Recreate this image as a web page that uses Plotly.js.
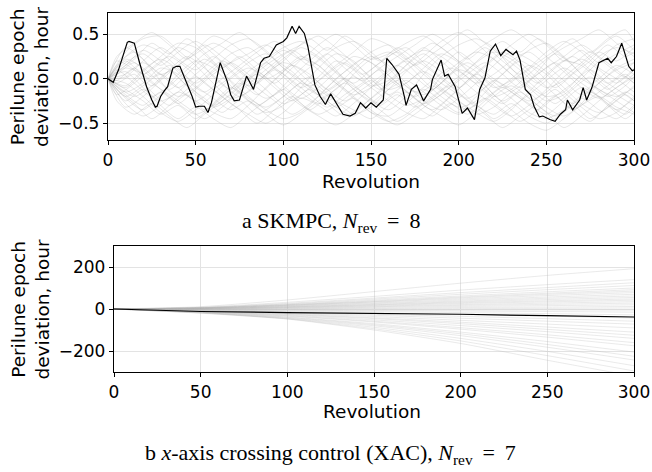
<!DOCTYPE html>
<html>
<head>
<meta charset="utf-8">
<script src="https://cdn.plot.ly/plotly-3.0.1.min.js"></script>
<style>html,body{margin:0;padding:0;background:#fff;}#chart{width:652px;height:472px;}</style>
</head>
<body>
<div id="chart"></div>
<script>
// ---------- Panel a: SKMPC, N_rev = 8 ----------
const revGridA = [0,10,20,30,40,50,60,70,80,90,100,110,120,130,140,150,160,170,180,190,200,210,220,230,240,250,260,270,280,290,300];
const mcA = [
 [0,.25,.38,.30,.12,-.05,.10,.28,.35,.20,.02,-.15,-.28,-.20,.05,.22,.30,.18,-.02,-.20,-.32,-.25,-.05,.15,.32,.40,.25,.05,-.12,-.20,-.10],
 [0,-.22,-.35,-.18,.05,.20,.12,-.08,-.25,-.38,-.30,-.10,.12,.28,.20,.00,-.18,-.30,-.22,.02,.18,.30,.22,.05,-.15,-.32,-.42,-.28,-.05,.10,.18],
 [0,.12,.05,-.12,-.28,-.40,-.30,-.12,.08,.22,.35,.42,.30,.10,-.12,-.25,-.35,-.20,.05,.25,.38,.45,.35,.12,-.08,-.20,-.15,.05,.25,.35,.28],
 [0,-.10,.08,.25,.40,.35,.18,-.02,-.20,-.35,-.45,-.38,-.20,.00,.15,.30,.38,.25,.08,-.10,-.25,-.38,-.48,-.35,-.15,.05,.20,.15,-.02,-.18,-.30],
 [0,.30,.45,.48,.32,.15,-.05,-.22,-.15,.05,.18,.10,-.08,-.25,-.40,-.32,-.12,.08,.25,.42,.52,.40,.22,.05,-.10,-.25,-.18,.00,.20,.38,.45],
 [0,-.28,-.42,-.30,-.15,-.25,-.38,-.45,-.30,-.10,.08,.22,.15,-.05,-.22,-.38,-.48,-.40,-.22,-.05,.10,.02,-.18,-.35,-.50,-.58,-.45,-.30,-.20,-.32,-.40],
 [0,.05,.18,.05,-.10,.05,.22,.38,.45,.32,.12,-.05,-.18,-.08,.10,.25,.15,-.05,-.25,-.35,-.22,-.05,.15,.30,.22,.08,-.10,-.28,-.38,-.25,-.08],
 [0,-.15,-.05,.12,.05,-.15,-.32,-.22,-.02,.15,.28,.38,.48,.35,.18,.02,-.12,-.05,.12,.28,.18,-.02,-.20,-.12,.05,.22,.35,.45,.55,.40,.25],
 [0,.18,.28,.15,.30,.42,.28,.10,-.08,-.22,-.12,.05,.20,.35,.42,.30,.12,-.08,-.18,-.05,.15,.32,.45,.55,.42,.25,.08,-.10,-.22,-.10,.05],
 [0,-.05,-.20,-.38,-.48,-.35,-.18,.00,.12,.02,-.15,-.30,-.42,-.52,-.40,-.22,-.05,.10,.20,.08,-.10,-.28,-.15,.00,.15,.05,-.15,-.32,-.45,-.38,-.20],
 [0,.22,.12,-.05,-.20,-.10,.08,.18,.05,-.12,-.28,-.18,-.02,.15,.30,.45,.38,.22,.35,.20,.02,-.15,-.30,-.42,-.30,-.12,.08,.22,.10,-.05,.12],
 [0,-.32,-.20,-.02,.15,.28,.40,.30,.15,.00,.10,.25,.15,-.02,-.18,-.10,.05,.20,.05,-.12,-.25,-.40,-.32,-.15,-.02,.12,.25,.38,.25,.10,-.05],
 [0,.08,-.10,-.25,-.15,.02,-.12,-.28,-.40,-.50,-.38,-.22,-.30,-.42,-.28,-.10,.08,.22,.32,.25,.10,-.05,.05,.20,.30,.15,-.02,-.18,-.05,.12,.22],
 [0,-.18,-.30,-.15,-.28,-.12,.05,.18,.28,.38,.25,.05,-.12,-.25,-.35,-.45,-.30,-.15,-.30,-.42,-.52,-.38,-.20,-.08,-.22,-.38,-.55,-.42,-.25,-.10,.02],
 [0,.35,.22,.05,.15,.32,.48,.40,.25,.10,-.08,-.22,-.10,.08,.25,.18,.00,-.15,-.28,-.18,.00,.18,.30,.22,.05,-.10,-.02,.15,.30,.20,.35],
 [0,-.08,.10,.22,.10,-.08,-.22,-.35,-.25,-.40,-.52,-.40,-.25,-.12,.02,-.10,-.25,-.38,-.45,-.30,-.12,.05,-.08,-.22,-.38,-.45,-.35,-.18,.00,.15,.05],
 [0,.15,.32,.20,.02,-.18,-.30,-.18,.00,.18,.32,.22,.38,.50,.38,.22,.28,.40,.48,.35,.20,.08,-.10,-.02,.12,.30,.42,.30,.12,.00,-.15],
 [0,-.25,-.12,-.30,-.45,-.32,-.45,-.55,-.40,-.25,-.12,-.28,-.40,-.30,-.15,-.02,-.18,-.05,.08,-.05,-.18,-.30,-.40,-.28,-.42,-.50,-.38,-.22,-.35,-.45,-.30],
 [0,.02,.20,.35,.22,.10,.25,.08,-.08,.05,.20,.35,.25,.08,-.05,.10,.25,.35,.18,.02,-.10,.05,.22,.38,.50,.38,.20,.32,.18,.28,.38],
 [0,-.12,-.25,-.40,-.30,-.45,-.28,-.10,-.22,-.32,-.20,-.05,-.15,-.32,-.22,-.38,-.42,-.28,-.12,-.25,-.38,-.20,-.02,-.15,-.28,-.40,-.25,-.10,-.20,-.35,-.22],
 [0,.20,.05,.18,.35,.25,.02,-.12,.02,.18,.05,-.10,.02,.20,.10,-.08,-.02,.15,.28,.15,.30,.15,.00,-.12,-.25,-.15,.02,.18,.35,.48,.32],
 [0,-.20,-.08,.05,-.10,-.25,-.12,.02,.18,.28,.12,-.02,-.18,-.32,-.42,-.28,-.12,-.02,-.15,-.30,-.40,-.30,-.45,-.32,-.18,-.02,.12,.00,-.12,-.25,-.38]
];
const revGridA2 = [0,5,15,25,35,45,55,65,75,85,95,105,115,125,135,145,155,165,175,185,195,205,215,225,235,245,255,265,275,285,295,300];
const mcA2 = [
 [0,.15,.30,.10,-.12,.05,.22,.08,-.15,-.30,-.18,.02,.20,.35,.22,.05,-.12,.05,.25,.40,.28,.10,-.08,-.25,-.12,.08,.28,.15,-.05,-.20,-.08,.02],
 [0,-.12,-.28,-.45,-.30,-.12,.05,.20,.08,-.10,-.25,-.40,-.28,-.10,.08,.22,.12,-.05,-.22,-.35,-.20,-.02,.15,.30,.18,.00,-.18,-.35,-.48,-.30,-.15,-.20],
 [0,.08,.22,.40,.28,.45,.30,.12,.25,.10,-.05,.12,.28,.15,-.02,-.15,-.30,-.18,-.32,-.20,-.05,.10,.28,.42,.30,.45,.32,.18,.30,.15,.02,.10],
 [0,-.05,.05,-.15,-.30,-.18,-.35,-.20,-.05,-.18,-.02,.15,.05,-.12,.00,-.15,-.28,-.15,-.30,-.42,-.28,-.40,-.25,-.10,-.22,-.35,-.20,-.05,.10,-.05,-.18,-.25],
 [0,.20,.10,-.08,.10,.25,.12,-.05,-.20,-.05,.15,.30,.45,.32,.48,.35,.20,.35,.22,.08,-.08,-.22,-.10,.05,.20,.08,-.10,.05,.20,.38,.25,.30],
 [0,-.18,-.05,.12,.25,.12,-.05,-.20,-.35,-.50,-.35,-.20,-.35,-.20,-.05,-.20,-.35,-.48,-.35,-.22,-.08,-.25,-.40,-.55,-.42,-.28,-.12,-.28,-.15,-.30,-.45,-.38],
 [0,.10,-.05,-.20,-.08,.10,.28,.40,.52,.38,.22,.08,-.08,.05,.18,.05,.18,.30,.15,.28,.42,.55,.40,.25,.10,-.05,.12,.25,.10,-.05,.10,.18],
 [0,-.25,-.40,-.28,-.42,-.55,-.40,-.25,-.08,.05,-.10,-.25,-.12,-.28,-.42,-.30,-.15,-.02,-.15,-.02,.12,.02,-.15,-.28,-.15,-.30,-.42,-.30,-.45,-.32,-.18,-.25],
 [0,.05,.18,.02,.15,-.02,-.15,.00,.15,.30,.42,.30,.15,.28,.12,-.02,.12,.25,.38,.50,.38,.22,.35,.20,.05,.18,.32,.45,.30,.45,.55,.42],
 [0,-.08,-.20,-.08,.08,-.08,-.22,-.38,-.25,-.40,-.28,-.12,.02,-.12,-.25,-.12,.02,.15,.02,-.12,.05,.18,.05,-.10,.02,-.12,-.28,-.12,.02,-.12,.02,-.05],
 [0,.25,.40,.52,.38,.22,.38,.25,.10,-.05,.10,-.02,-.18,-.32,-.18,-.05,.10,-.05,-.20,-.08,-.22,-.35,-.22,-.35,-.48,-.35,-.20,-.35,-.22,-.08,.05,-.02],
 [0,-.02,.12,-.05,-.18,-.32,-.45,-.32,-.15,.02,.18,.32,.18,.02,-.12,-.28,-.42,-.52,-.40,-.25,-.10,.05,.18,.05,-.10,.05,.18,.02,-.12,-.28,-.40,-.32]
];
const nomRevA = [0,3,6,9,11,12,14,15,18,22,25,27,28,30,32,34,37,39,41,45,48,50,52,55,57,59,61,64,68,70,72,75,79,81,83,87,89,92,96,100,102,105,107,109,112,114,117,118,121,124,127,130,134,138,141,144,147,150,153,157,159,162,165,166,169,170,173,176,180,184,185,190,192,194,198,202,205,209,212,215,218,221,224,227,231,233,235,238,241,243,246,248,252,255,258,261,262,265,269,271,273,276,280,283,285,287,290,293,297,299,300];
const nomDevA = [0,-0.04,0.10,0.29,0.41,0.42,0.41,0.40,0.18,-0.09,-0.24,-0.32,-0.31,-0.20,-0.14,-0.09,0.12,0.14,0.14,-0.05,-0.20,-0.32,-0.31,-0.31,-0.38,-0.27,-0.09,0.18,-0.03,-0.18,-0.25,-0.24,0.03,-0.05,-0.12,0.18,0.23,0.25,0.38,0.42,0.46,0.59,0.51,0.59,0.51,0.36,0.03,-0.07,-0.20,-0.29,-0.17,-0.27,-0.40,-0.42,-0.39,-0.27,-0.33,-0.27,-0.32,-0.24,0.23,0.16,0.07,0.05,-0.20,-0.30,-0.12,-0.07,-0.25,-0.12,-0.01,0.21,0.03,0.05,-0.09,-0.39,-0.33,-0.46,-0.12,0.01,0.31,0.39,0.26,0.33,0.27,0.31,0.21,-0.12,-0.18,-0.31,-0.43,-0.42,-0.46,-0.48,-0.40,-0.35,-0.24,-0.35,-0.24,-0.10,-0.24,-0.10,0.18,0.21,0.23,0.18,0.25,0.40,0.14,0.09,0.10];

// ---------- Panel b: x-axis crossing control (XAC), N_rev = 7 ----------
const revGridB = [0,50,100,150,200,250,300];
const mcB = [
 [0,11,43,83,123,160,192],[0,8,32,60,90,116,140],[0,7,27,52,78,102,125],[0,6,24,47,70,92,112],
 [0,5,21,42,62,82,100],[0,6,20,38,57,75,92],[0,4,18,35,53,70,85],[0,5,17,33,48,64,78],
 [0,3,15,29,43,57,70],[0,4,13,26,38,51,62],[0,2,11,22,34,45,55],[0,3,10,20,30,39,48],
 [0,1,8,17,26,34,42],[0,2,7,14,21,28,35],[0,0,5,11,17,22,28],[0,1,3,8,12,16,20],
 [0,-1,1,4,7,9,12],[0,-2,-1,1,2,3,5],[0,-3,-4,-5,-5,-5,-5],[0,-4,-6,-8,-10,-12,-15],
 [0,-5,-9,-13,-17,-22,-28],[0,-6,-12,-19,-26,-34,-43],[0,-7,-15,-25,-35,-46,-58],[0,-8,-18,-30,-44,-58,-72],
 [0,-9,-21,-36,-54,-72,-90],[0,-10,-24,-42,-63,-86,-110],[0,-11,-26,-46,-70,-97,-125],[0,-12,-29,-52,-79,-108,-140],
 [0,-13,-32,-58,-89,-123,-160],[0,-14,-34,-62,-96,-134,-175],[0,-15,-38,-70,-110,-155,-205],[0,-16,-40,-75,-118,-169,-225],
 [0,-17,-43,-80,-127,-182,-243],[0,-18,-45,-87,-140,-202,-270],[0,-19,-47,-94,-152,-222,-295],[0,-20,-48,-100,-164,-244,-320]
];
const nomRevB = [0,25,50,100,150,200,250,300];
const nomDevB = [0,-5,-12,-17,-20,-25,-32,-38];

const xTicks = [0,50,100,150,200,250,300];
const yTicksA = [-0.5,0,0.5];
const yTicksB = [-200,0,200];
const yTitle = 'Perilune epoch<br>deviation, hour';
const xTitle = 'Revolution';
const captionA = 'a SKMPC, <i>N</i><sub>rev</sub>\u2009 = \u20098';
const captionB = 'b <i>x</i>-axis crossing control (XAC), <i>N</i><sub>rev</sub>\u2009 = \u20097';

const traces = [];
const grayA = {color:'rgba(150,150,150,0.33)', width:0.7, shape:'spline', smoothing:0.7};
mcA.forEach(y => traces.push({x: revGridA, y: y, xaxis:'x', yaxis:'y', mode:'lines', line:grayA, hoverinfo:'skip', showlegend:false}));
mcA2.forEach(y => traces.push({x: revGridA2, y: y, xaxis:'x', yaxis:'y', mode:'lines', line:grayA, hoverinfo:'skip', showlegend:false}));
traces.push({x: nomRevA, y: nomDevA, xaxis:'x', yaxis:'y', mode:'lines',
  line:{color:'#000', width:1.2}, hoverinfo:'skip', showlegend:false});
mcB.forEach(y => traces.push({x: revGridB, y: y, xaxis:'x2', yaxis:'y2', mode:'lines',
  line:{color:'rgba(175,175,175,0.38)', width:0.7, shape:'spline', smoothing:0.6}, hoverinfo:'skip', showlegend:false}));
traces.push({x: nomRevB, y: nomDevB, xaxis:'x2', yaxis:'y2', mode:'lines',
  line:{color:'#000', width:1.2}, hoverinfo:'skip', showlegend:false});

const tickFont = {family:'DejaVu Sans', size:17, color:'#000'};
const axBase = {showline:true, mirror:true, linecolor:'#000', linewidth:1.2, ticks:'outside', ticklen:4,
  tickwidth:1, tickcolor:'#000', showgrid:true, gridcolor:'#e3e3e3', gridwidth:1, zeroline:false,
  tickfont:tickFont, automargin:false, fixedrange:true};

const W = 652, H = 472;
const labelFont = {family:'DejaVu Sans', size:18.5, color:'#000'};
const capFont = {family:'Liberation Serif', size:22, color:'#000'};
const layout = {
  width: W, height: H, margin:{l:0,r:0,t:0,b:0}, paper_bgcolor:'#fff', plot_bgcolor:'#fff',
  showlegend:false,
  xaxis: Object.assign({}, axBase, {domain:[108/W, 634/W], range:[0,300], tickvals:xTicks, anchor:'y'}),
  yaxis: Object.assign({}, axBase, {domain:[1-140/H, 1-13/H], range:[-0.69,0.74], tickvals:yTicksA, tickformat:'.1f', anchor:'x'}),
  xaxis2: Object.assign({}, axBase, {domain:[114/W, 634/W], range:[0,300], tickvals:xTicks, anchor:'y2'}),
  yaxis2: Object.assign({}, axBase, {domain:[1-372/H, 1-246/H], range:[-300,300], tickvals:yTicksB, anchor:'x2'}),
  annotations: [
    {text:yTitle, xref:'paper', yref:'paper', x:29.5/W, y:1-76.5/H, xanchor:'center', yanchor:'middle', textangle:-90, showarrow:false, font:labelFont},
    {text:yTitle, xref:'paper', yref:'paper', x:29.5/W, y:1-309/H, xanchor:'center', yanchor:'middle', textangle:-90, showarrow:false, font:labelFont},
    {text:xTitle, xref:'paper', yref:'paper', x:371.3/W, y:1-181.7/H, xanchor:'center', yanchor:'middle', showarrow:false, font:labelFont},
    {text:xTitle, xref:'paper', yref:'paper', x:372/W, y:1-411.7/H, xanchor:'center', yanchor:'middle', showarrow:false, font:labelFont},
    {text:captionA, xref:'paper', yref:'paper', x:331/W, y:1-222/H, xanchor:'center', yanchor:'middle', showarrow:false, font:capFont},
    {text:captionB, xref:'paper', yref:'paper', x:331/W, y:1-454/H, xanchor:'center', yanchor:'middle', showarrow:false, font:capFont}
  ]
};
Plotly.newPlot('chart', traces, layout, {displayModeBar:false, staticPlot:true});
</script>
</body>
</html>
